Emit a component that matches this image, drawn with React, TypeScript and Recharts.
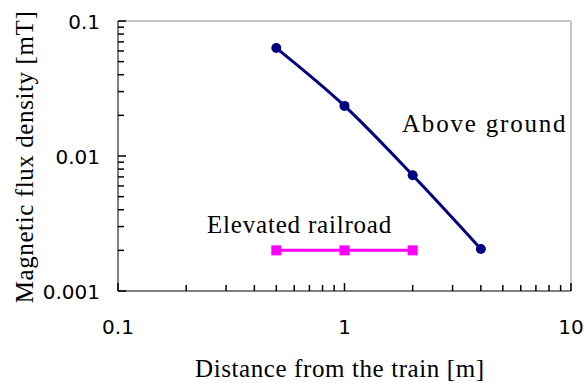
import { LineChart, Line, XAxis, YAxis, ReferenceLine } from 'recharts';

// Above ground measurements
const distAbove = [0.5, 1, 2, 4];
const fluxAbove = [0.063, 0.0235, 0.0072, 0.00205];

// Elevated railroad measurements
const distElevated = [0.5, 1, 2];
const fluxElevated = [0.002, 0.002, 0.002];

// Axis ticks (log scale, decades + minor ticks)
const xTicks = [0.1, 0.2, 0.3, 0.4, 0.5, 0.6, 0.7, 0.8, 0.9, 1, 2, 3, 4, 5, 6, 7, 8, 9, 10];
const xMajor = [0.1, 1, 10];
const xLabels = ['0.1', '1', '10'];
const yTicks = [0.001, 0.002, 0.003, 0.004, 0.005, 0.006, 0.007, 0.008, 0.009, 0.01, 0.02, 0.03, 0.04, 0.05, 0.06, 0.07, 0.08, 0.09, 0.1];
const yMajor = [0.001, 0.01, 0.1];
const yLabels = ['0.001', '0.01', '0.1'];

const aboveData = distAbove.map((d, i) => ({ d, v: fluxAbove[i] }));
const elevatedData = distElevated.map((d, i) => ({ d, v: fluxElevated[i] }));

function XTick(props: any) {
    const x = Number(props.x);
    const y = Number(props.y);
    const idx = xMajor.indexOf(props.payload.value);
    return (
        <g>
            <line x1={x} x2={x} y1={y} y2={y - (idx >= 0 ? 8 : 6)} stroke="#000" strokeWidth={1.5} />
            {idx >= 0 && (
                <text x={x} y={y + 43} textAnchor="middle" fill="#000" style={{ fontFamily: 'DejaVu Sans', fontSize: 20 }}>
                    {xLabels[idx]}
                </text>
            )}
        </g>
    );
}

function YTick(props: any) {
    const x = Number(props.x);
    const y = Number(props.y);
    const idx = yMajor.indexOf(props.payload.value);
    return (
        <g>
            <line x1={x} x2={x + (idx >= 0 ? 8 : 6)} y1={y} y2={y} stroke="#000" strokeWidth={1.5} />
            {idx >= 0 && (
                <text x={x - 18} y={y + 8} textAnchor="end" fill="#000" style={{ fontFamily: 'DejaVu Sans', fontSize: 20 }}>
                    {yLabels[idx]}
                </text>
            )}
        </g>
    );
}

const titleStyle = { fontFamily: 'Liberation Serif', fontSize: 25, fill: '#000' };

export default function App() {
    return (
        <div style={{ position: 'absolute', left: 0, top: 0, width: 586, height: 383, background: '#fff' }}>
            <LineChart width={586} height={383} margin={{ top: 21, right: 15, bottom: 0, left: 0 }}>
                <XAxis
                    dataKey="d"
                    type="number"
                    scale="log"
                    domain={[0.1, 10]}
                    allowDataOverflow
                    ticks={xTicks}
                    interval={0}
                    height={92}
                    tickSize={0}
                    tickMargin={0}
                    tickLine={false}
                    tick={(p: any) => <XTick {...p} />}
                    axisLine={{ stroke: '#000', strokeWidth: 1 }}
                />
                <YAxis
                    dataKey="v"
                    type="number"
                    scale="log"
                    domain={[0.001, 0.1]}
                    allowDataOverflow
                    ticks={yTicks}
                    interval={0}
                    width={118}
                    tickSize={0}
                    tickMargin={0}
                    tickLine={false}
                    tick={(p: any) => <YTick {...p} />}
                    axisLine={{ stroke: '#000', strokeWidth: 1 }}
                />
                {/* light grey frame on top and right */}
                <ReferenceLine y={0.1} stroke="#b4b4b4" strokeWidth={1.5} />
                <ReferenceLine x={10} stroke="#b4b4b4" strokeWidth={1.5} />
                <Line
                    data={elevatedData}
                    dataKey="v"
                    type="linear"
                    stroke="#ff00ff"
                    strokeWidth={3}
                    isAnimationActive={false}
                    dot={(p: any) => <rect key={p.index} x={p.cx - 5} y={p.cy - 5} width={10} height={10} fill="#ff00ff" />}
                />
                <Line
                    data={aboveData}
                    dataKey="v"
                    type="monotone"
                    stroke="#000080"
                    strokeWidth={3}
                    isAnimationActive={false}
                    dot={(p: any) => <circle key={p.index} cx={p.cx} cy={p.cy} r={5} fill="#000080" />}
                />
            </LineChart>
            {/* series labels and axis titles */}
            <svg width={586} height={383} style={{ position: 'absolute', left: 0, top: 0, pointerEvents: 'none' }}>
                <text x={402} y={132} style={{ ...titleStyle, letterSpacing: 1.8 }}>Above ground</text>
                <text x={207} y={233} style={{ ...titleStyle, letterSpacing: 0.8 }}>Elevated railroad</text>
                <text x={195} y={377} style={{ ...titleStyle, letterSpacing: 0.6 }}>Distance from the train [m]</text>
                <text x={33} y={157} textAnchor="middle" transform="rotate(-90, 33, 157)" style={{ ...titleStyle, letterSpacing: 0.6 }}>
                    Magnetic flux density [mT]
                </text>
            </svg>
        </div>
    );
}
